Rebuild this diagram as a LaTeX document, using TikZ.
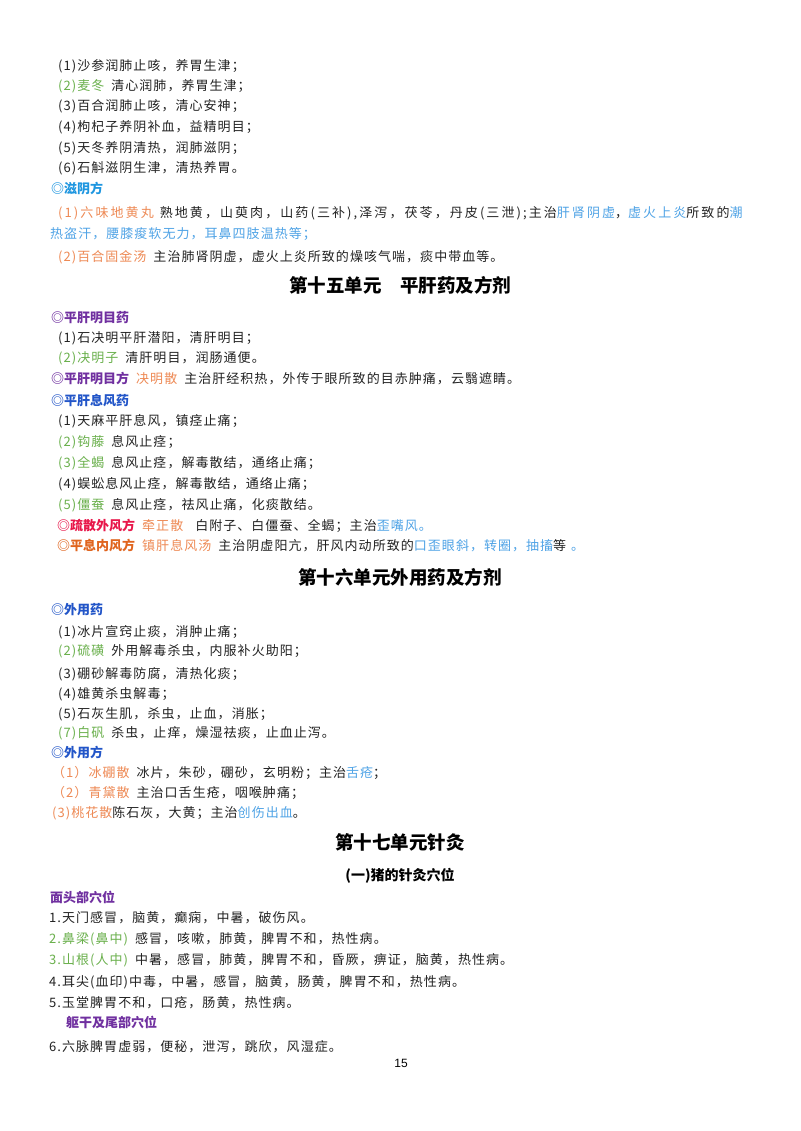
\documentclass[tikz,border=0pt]{standalone}
\usepackage{fontspec}
\setmainfont{Noto Sans CJK SC}[LetterSpace=8]
\newfontfamily\hd{Noto Sans CJK SC}
\newfontfamily\pgfont{Liberation Sans}
\definecolor{ink}{HTML}{222222}
\definecolor{gr}{HTML}{6AB04C}
\definecolor{cy}{HTML}{1E96E0}
\definecolor{orr}{HTML}{EE8A55}
\definecolor{lbl}{HTML}{4FA3E6}
\definecolor{pu}{HTML}{7030A0}
\definecolor{bl}{HTML}{2255C8}
\definecolor{rd}{HTML}{E8174A}
\definecolor{og}{HTML}{E0641E}
\newcommand\ggr[1]{\textcolor{gr}{#1}}
\newcommand\oor[1]{\textcolor{orr}{#1}}
\newcommand\llb[1]{\textcolor{lbl}{#1}}
\newcommand\gp{\hspace{7pt}}
\newcommand\hb[2]{\textcolor{#1}{\hd\bfseries #2}}
\begin{document}
\begin{tikzpicture}[x=1pt,y=-1pt,
  txt/.style={inner sep=0pt, anchor=base west, text=ink, font=\fontsize{13}{15}\selectfont},
  head/.style={inner sep=0pt, anchor=base west, font=\fontsize{13}{15}\hd\bfseries},
  ttl/.style={inner sep=0pt, anchor=base, text=black, font=\fontsize{18.5}{20}\hd\bfseries},
  sub/.style={inner sep=0pt, anchor=base, text=black, font=\fontsize{14}{16}\hd\bfseries}]
\useasboundingbox (0,0) rectangle (800,1131);
\fill[white] (0,0) rectangle (800,1131);
% top list
\node[txt] (a1) at (58,71) {(1)沙参润肺止咳，养胃生津；};
\node[txt] (a2) at (58,91) {\ggr{(2)麦冬}\gp 清心润肺，养胃生津；};
\node[txt] (a3) at (58,111) {(3)百合润肺止咳，清心安神；};
\node[txt] (a4) at (58,132) {(4)枸杞子养阴补血，益精明目；};
\node[txt] (a5) at (58,153) {(5)天冬养阴清热，润肺滋阴；};
\node[txt] (a6) at (58,173) {(6)石斛滋阴生津，清热养胃。};
\node[head,text=cy] (h1) at (51,194) {◎滋阴方};
\node[txt] (a7) at (58,218) {\addfontfeature{LetterSpace=16}\oor{(1)六味地黄丸}\hspace{6pt}熟地黄，山萸肉，山药(三补),泽泻，茯苓，丹皮(三泄);主治\llb{肝肾阴虚}，\llb{虚火上炎}所致的\llb{潮}};
\node[txt,text=lbl] (a8) at (50,239) {热盗汗，腰膝痠软无力，耳鼻四肢温热等；};
\node[txt] (a9) at (58,262) {\oor{(2)百合固金汤}\gp 主治肺肾阴虚，虚火上炎所致的燥咳气喘，痰中带血等。};
% unit 15
\node[ttl] (t1) at (400,292) {第十五单元\hspace{18.5pt}平肝药及方剂};
\node[head,text=pu] (h2) at (51,322) {◎平肝明目药};
\node[txt] (b1) at (58,342) {(1)石决明平肝潜阳，清肝明目；};
\node[txt] (b2) at (58,362) {\ggr{(2)决明子}\gp 清肝明目，润肠通便。};
\node[txt] (b3) at (51,383) {\hb{pu}{◎平肝明目方}\gp\oor{决明散}\gp 主治肝经积热，外传于眼所致的目赤肿痛，云翳遮睛。};
\node[head,text=bl] (h3) at (51,405) {◎平肝息风药};
\node[txt] (c1) at (58,425) {(1)天麻平肝息风，镇痉止痛；};
\node[txt] (c2) at (58,446) {\ggr{(2)钩藤}\gp 息风止痉；};
\node[txt] (c3) at (58,467) {\ggr{(3)全蝎}\gp 息风止痉，解毒散结，通络止痛；};
\node[txt] (c4) at (58,488) {(4)蜈蚣息风止痉，解毒散结，通络止痛；};
\node[txt] (c5) at (58,509) {\ggr{(5)僵蚕}\gp 息风止痉，祛风止痛，化痰散结。};
\node[txt] (c6) at (57,530) {\hb{rd}{◎疏散外风方}\gp\oor{牵正散}\hspace{12pt}白附子、白僵蚕、全蝎；主治\llb{歪嘴风。}};
\node[txt] (c7) at (57,550) {\hb{og}{◎平息内风方}\gp\oor{镇肝息风汤}\gp 主治阴虚阳亢，肝风内动所致的\llb{口歪眼斜，转圈，抽搐}等\hspace{5pt}\llb{。}};
% unit 16
\node[ttl] (t2) at (400,584) {第十六单元外用药及方剂};
\node[head,text=bl] (h4) at (51,614) {◎外用药};
\node[txt] (d1) at (58,636) {(1)冰片宣窍止痰，消肿止痛；};
\node[txt] (d2) at (58,655) {\ggr{(2)硫磺}\gp 外用解毒杀虫，内服补火助阳；};
\node[txt] (d3) at (58,678) {(3)硼砂解毒防腐，清热化痰；};
\node[txt] (d4) at (58,698) {(4)雄黄杀虫解毒；};
\node[txt] (d5) at (58,718) {(5)石灰生肌，杀虫，止血，消胀；};
\node[txt] (d6) at (58,737) {\ggr{(7)白矾}\gp 杀虫，止痒，燥湿祛痰，止血止泻。};
\node[head,text=bl] (h5) at (51,757) {◎外用方};
\node[txt] (e1) at (52,777) {\oor{（1）冰硼散}\gp 冰片，朱砂，硼砂，玄明粉；主治\llb{舌疮}；};
\node[txt] (e2) at (52,797) {\oor{（2）青黛散}\gp 主治口舌生疮，咽喉肿痛；};
\node[txt] (e3) at (52,817) {\oor{(3)桃花散}陈石灰，大黄；主治\llb{创伤出血}。};
% unit 17
\node[ttl] (t3) at (400,849) {第十七单元针灸};
\node[sub] (t4) at (400,880) {(一)猪的针灸穴位};
\node[head,text=pu] (h6) at (50,902) {面头部穴位};
\node[txt] (f1) at (49,922) {1.天门感冒，脑黄，癫痫，中暑，破伤风。};
\node[txt] (f2) at (49,943) {\ggr{2.鼻梁(鼻中)}\gp 感冒，咳嗽，肺黄，脾胃不和，热性病。};
\node[txt] (f3) at (49,964) {\ggr{3.山根(人中)}\gp 中暑，感冒，肺黄，脾胃不和，昏厥，痹证，脑黄，热性病。};
\node[txt] (f4) at (49,986) {4.耳尖(血印)中毒，中暑，感冒，脑黄，肠黄，脾胃不和，热性病。};
\node[txt] (f5) at (49,1007) {5.玉堂脾胃不和，口疮，肠黄，热性病。};
\node[head,text=pu] (h7) at (66,1027) {躯干及尾部穴位};
\node[txt] (f6) at (49,1051) {6.六脉脾胃虚弱，便秘，泄泻，跳欣，风湿症。};
\node[inner sep=0pt, anchor=base, text=black, font=\fontsize{12}{14}\pgfont] (pg) at (401,1067) {15};
\end{tikzpicture}
\end{document}
